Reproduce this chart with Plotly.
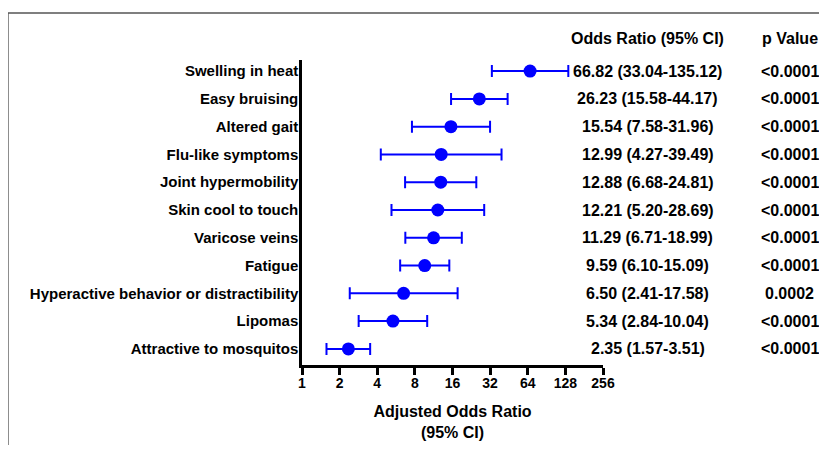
import plotly.graph_objects as go

symptoms = ["Swelling in heat", "Easy bruising", "Altered gait", "Flu-like symptoms",
            "Joint hypermobility", "Skin cool to touch", "Varicose veins", "Fatigue",
            "Hyperactive behavior or distractibility", "Lipomas", "Attractive to mosquitos"]
odds = [66.82, 26.23, 15.54, 12.99, 12.88, 12.21, 11.29, 9.59, 6.50, 5.34, 2.35]
ci_low = [33.04, 15.58, 7.58, 4.27, 6.68, 5.20, 6.71, 6.10, 2.41, 2.84, 1.57]
ci_high = [135.12, 44.17, 31.96, 39.49, 24.81, 28.69, 18.99, 15.09, 17.58, 10.04, 3.51]
or_text = ["66.82 (33.04-135.12)", "26.23 (15.58-44.17)", "15.54 (7.58-31.96)",
           "12.99 (4.27-39.49)", "12.88 (6.68-24.81)", "12.21 (5.20-28.69)",
           "11.29 (6.71-18.99)", "9.59 (6.10-15.09)", "6.50 (2.41-17.58)",
           "5.34 (2.84-10.04)", "2.35 (1.57-3.51)"]
p_values = ["<0.0001", "<0.0001", "<0.0001", "<0.0001", "<0.0001", "<0.0001",
            "<0.0001", "<0.0001", "0.0002", "<0.0001", "<0.0001"]
x_ticks = [1, 2, 4, 8, 16, 32, 64, 128, 256]

n = len(symptoms)
ypos = [n - 1 - i for i in range(n)]
FONT = "Liberation Sans, Arial, sans-serif"
OR_X = 1.1495
P_X = 1.62

fig = go.Figure()
fig.add_trace(go.Scatter(
    x=odds, y=ypos, mode="markers",
    marker=dict(color="#0000FF", size=13),
    error_x=dict(type="data", symmetric=False,
                 array=[h - o for h, o in zip(ci_high, odds)],
                 arrayminus=[o - l for o, l in zip(odds, ci_low)],
                 color="#0000FF", thickness=2, width=6),
    showlegend=False, hoverinfo="skip"))

annotations = []
for y, t, p in zip(ypos, or_text, p_values):
    annotations.append(dict(x=OR_X, y=y, xref="paper", yref="y", text="<b>%s</b>" % t,
                            showarrow=False, xanchor="center", yanchor="middle",
                            font=dict(size=16, color="black", family=FONT)))
    annotations.append(dict(x=P_X, y=y, xref="paper", yref="y", text="<b>%s</b>" % p,
                            showarrow=False, xanchor="center", yanchor="middle",
                            font=dict(size=16, color="black", family=FONT)))
annotations.append(dict(x=OR_X, y=1.07, xref="paper", yref="paper",
                        text="<b>Odds Ratio (95% CI)</b>", showarrow=False,
                        xanchor="center", yanchor="middle",
                        font=dict(size=16, color="black", family=FONT)))
annotations.append(dict(x=P_X, y=1.07, xref="paper", yref="paper",
                        text="<b>p Value</b>", showarrow=False,
                        xanchor="center", yanchor="middle",
                        font=dict(size=16, color="black", family=FONT)))

fig.update_layout(
    width=811, height=437,
    margin=dict(l=294, r=216, t=52, b=80),
    paper_bgcolor="white", plot_bgcolor="white",
    font=dict(family=FONT, color="black", size=14),
    xaxis=dict(type="log", range=[0, 2.40824], tickvals=x_ticks,
               ticktext=["<b>%d</b>" % v for v in x_ticks], automargin=False,
               showgrid=False, zeroline=False, showline=True, linecolor="black",
               linewidth=2.5, ticks="outside", ticklen=7, tickwidth=2.5,
               tickcolor="black", tickfont=dict(size=14), ticklabelstandoff=-4,
               title=dict(text="<b>Adjusted Odds Ratio<br>(95% CI)</b>",
                          font=dict(size=16), standoff=17)),
    yaxis=dict(range=[-0.58, 10.4], tickvals=ypos, automargin=False,
               ticktext=["<b>%s</b>" % s for s in symptoms],
               showgrid=False, zeroline=False, showline=True, linecolor="black",
               linewidth=2.5, ticks="", ticklabelstandoff=-2, tickfont=dict(size=15)),
    annotations=annotations,
    shapes=[
        dict(type="line", xref="paper", yref="paper", x0=-0.977, x1=-0.977,
             y0=1.154, y1=-0.3, line=dict(color="#555555", width=1.5)),
        dict(type="line", xref="paper", yref="paper", x0=-0.977, x1=1.8,
             y0=1.154, y1=1.154, line=dict(color="#555555", width=1.5)),
    ],
)

fig.write_html("out.html")
